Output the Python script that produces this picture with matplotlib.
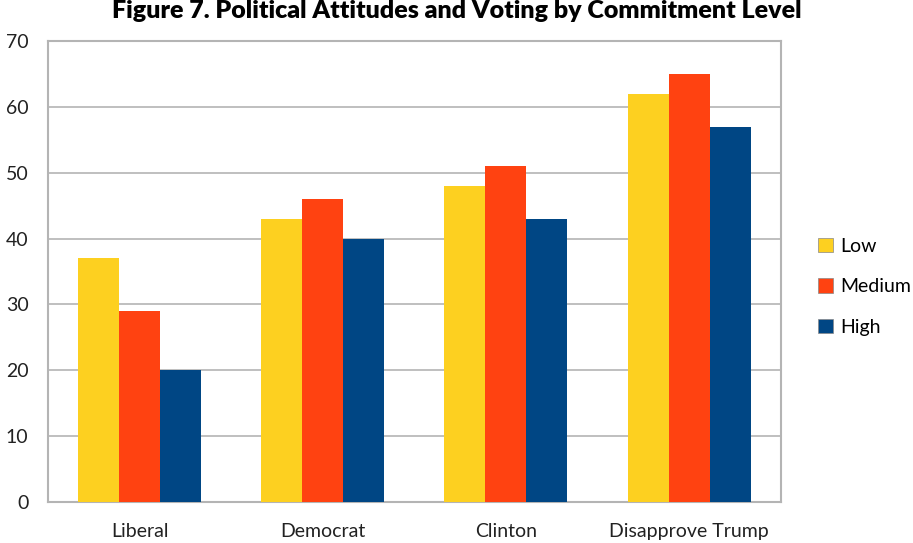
import numpy as np
import matplotlib.pyplot as plt
from matplotlib.patches import Patch

categories = ['Liberal', 'Democrat', 'Clinton', 'Disapprove Trump']
series = ['Low', 'Medium', 'High']
low = [37, 43, 48, 62]
medium = [29, 46, 51, 65]
high = [20, 40, 43, 57]
colors = ['#FDD020', '#FF4211', '#004684']

plt.rcParams['font.family'] = ['Lato', 'DejaVu Sans']

fig = plt.figure(figsize=(9.13, 5.43), dpi=100)
ax = fig.add_axes([0.0526, 0.0755, 0.8024, 0.849])

x = np.arange(len(categories))
w = 0.224
for i, (vals, c) in enumerate(zip([low, medium, high], colors)):
    ax.bar(x + (i - 1) * w, vals, w, color=c, zorder=3)

ax.set_xlim(-0.5, len(categories) - 0.5)
ax.set_ylim(0, 70)
ax.set_yticks(range(0, 71, 10))
ax.set_xticks(x)
ax.set_xticklabels(categories, fontsize=14, color='#222222')
ax.tick_params(axis='y', labelsize=14, colors='#222222', length=0, pad=14)
ax.tick_params(axis='x', length=0, pad=15)
ax.yaxis.grid(True, color='#B4B4B4', lw=1.2, zorder=0)
for s in ax.spines.values():
    s.set_color('#B4B4B4')
    s.set_linewidth(1.5)

fig.suptitle('Figure 7. Political Attitudes and Voting by Commitment Level',
             x=0.5, y=1.0, fontsize=18, fontweight='heavy', color='black')

handles = [Patch(facecolor=c, edgecolor='#888888', linewidth=0.5) for c in colors]
fig.legend(handles, series, loc='center left', bbox_to_anchor=(0.877, 0.472),
           frameon=False, fontsize=14, handlelength=0.75, handleheight=0.75,
           labelspacing=1.2, handletextpad=0.4)

fig.savefig('out.png', dpi=100)
